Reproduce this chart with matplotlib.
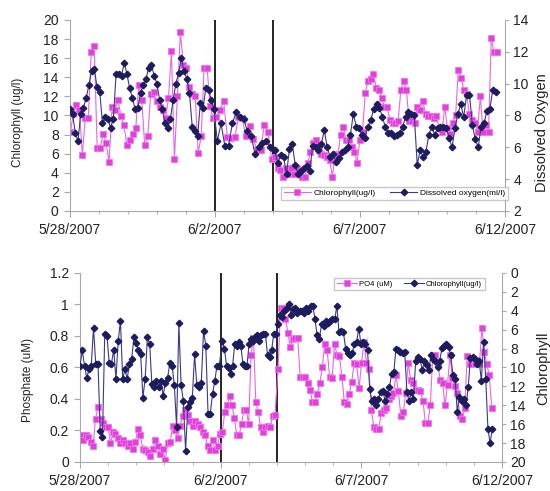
import numpy as np
import pandas as pd
import matplotlib
matplotlib.use('Agg')
import matplotlib.pyplot as plt
import matplotlib.dates as mdates
from matplotlib.ticker import FixedLocator

plt.rcParams['font.family'] = ['Liberation Sans', 'DejaVu Sans']

# ---- top panel: chlorophyll (ug/l) and dissolved oxygen (ml/l) ----
# each series is kept in three pieces: before 6/2, 6/2-6/4, after 6/4
top_chl_spans = [('2007-05-28 00:30', '2007-06-01 22:30'),
                 ('2007-06-02 01:10', '2007-06-03 23:00'),
                 ('2007-06-04 01:40', '2007-06-11 17:15')]
top_chl_a = [8.3, 10.2, 11.1, 10.6, 5.9, 9.7, 9.7, 16.6, 17.3, 6.6, 6.6, 8.1, 7.1, 5.1, 10.9, 10.6,
             11.6, 9.9, 9.0, 6.9, 7.4, 8.1, 8.7, 13.2, 11.6, 6.9, 7.8, 12.2, 12.5, 11.5, 10.9, 10.6,
             9.7, 11.8, 16.7, 5.4, 12.0, 18.7, 15.3, 15.0, 13.0, 12.2, 12.0, 6.1, 7.8, 15.0, 15.0,
             11.0, 9.7]
top_chl_b = [9.8, 10.6, 11.5, 7.7, 7.6, 7.7, 9.8, 9.7, 7.8, 8.9, 7.5, 6.4, 6.4, 9.0, 8.3, 5.4]
top_chl_c = [5.7, 4.5, 4.3, 3.6, 4.5, 3.9, 4.5, 3.9, 4.5, 3.9, 3.6, 3.6, 5.0, 6.2, 7.1, 7.4, 6.4,
             6.0, 5.9, 5.7, 5.3, 3.6, 6.0, 5.9, 8.0, 8.8, 7.4, 7.4, 6.7, 6.2, 5.0, 7.4, 8.3, 12.4,
             13.6, 13.8, 14.3, 12.9, 12.7, 11.8, 10.9, 10.9, 9.5, 9.2, 9.2, 9.4, 12.7, 13.6, 12.7,
             9.4, 9.4, 9.2, 10.9, 10.6, 11.5, 10.2, 9.9, 9.9, 9.7, 9.9, 8.7, 8.3, 10.9, 8.7, 8.1,
             9.2, 10.1, 14.8, 13.9, 12.7, 12.2, 10.2, 9.5, 9.2, 8.3, 12.0, 8.3, 9.0, 8.3, 18.1,
             16.6, 16.6]

top_do_spans = [('2007-05-28 00:00', '2007-06-01 23:15'),
                ('2007-06-02 02:00', '2007-06-04 00:45'),
                ('2007-06-04 01:40', '2007-06-11 16:20')]
top_do_a = [8.4, 8.1, 6.9, 6.4, 8.1, 8.5, 9.1, 9.9, 10.8, 10.9, 9.8, 9.5, 7.5, 7.9, 7.8, 7.2, 7.8,
            10.6, 10.6, 10.5, 11.3, 10.6, 9.7, 9.1, 8.4, 8.5, 9.4, 9.9, 10.3, 11.0, 11.2, 10.5,
            10.0, 9.0, 8.4, 7.5, 7.2, 7.8, 9.0, 10.0, 10.7, 11.6, 10.8, 10.3, 9.4, 7.3, 7.0, 6.7,
            8.8, 8.5, 9.7, 9.6, 9.0, 8.4]
top_do_b = [6.4, 7.5, 6.1, 6.1, 7.5, 8.2, 7.9, 7.8, 7.0, 6.7, 5.6, 6.0, 6.3, 6.4, 6.0, 5.8]
top_do_c = [5.8, 5.0, 5.5, 5.4, 4.3, 5.9, 6.2, 4.9, 4.3, 4.5, 4.7, 4.8, 4.5, 6.1, 6.0, 5.8, 6.2,
            7.1, 6.0, 5.4, 5.6, 5.1, 5.3, 5.7, 5.8, 6.0, 6.8, 8.1, 7.3, 7.2, 6.8, 6.6, 7.3, 7.7,
            8.4, 8.7, 8.5, 7.9, 7.3, 6.9, 6.9, 6.7, 6.8, 6.9, 7.3, 7.9, 8.2, 8.1, 8.0, 4.9, 5.8,
            5.4, 5.7, 6.8, 7.3, 6.8, 7.2, 7.3, 7.3, 7.2, 6.6, 6.0, 7.2, 8.1, 8.7, 7.9, 9.3, 9.3,
            7.4, 6.5, 6.0, 7.3, 7.5, 8.3, 8.4, 9.6, 9.5]

# ---- bottom panel: phosphate (uM) and chlorophyll (ug/l) ----
bot_po4_spans = [('2007-05-28 00:30', '2007-06-01 23:30'),
                 ('2007-06-02 01:30', '2007-06-03 22:20'),
                 ('2007-06-04 01:00', '2007-06-11 15:20')]
bot_po4_a = [0.17, 0.14, 0.17, 0.16, 0.13, 0.10, 0.275, 0.35, 0.275, 0.25, 0.22, 0.22, 0.12, 0.19,
             0.18, 0.15, 0.12, 0.14, 0.12, 0.10, 0.12, 0.085, 0.13, 0.21, 0.17, 0.085, 0.075,
             0.065, 0.04, 0.085, 0.14, 0.10, 0.05, 0.085, 0.01, 0.12, 0.13, 0.23, 0.20, 0.15,
             0.23, 0.29, 0.33, 0.30, 0.26, 0.23, 0.26, 0.24, 0.22, 0.19, 0.17, 0.10, 0.075, 0.14,
             0.075, 0.10, 0.18]
bot_po4_b = [0.19, 0.32, 0.36, 0.42, 0.36, 0.28, 0.17, 0.17, 0.24, 0.33, 0.33, 0.24, 0.68, 0.79,
             0.38, 0.32, 0.22, 0.19, 0.22, 0.23, 0.22, 0.29, 0.30]
bot_po4_c = [0.59, 0.98, 0.98, 0.91, 0.82, 0.73, 0.78, 0.79, 0.79, 0.54, 0.54, 0.54, 0.50, 0.46,
             0.38, 0.38, 0.43, 0.50, 0.60, 0.75, 0.71, 0.54, 0.53, 0.75, 0.68, 0.67, 0.54, 0.38,
             0.37, 0.43, 0.51, 0.63, 0.62, 0.47, 0.63, 0.76, 0.63, 0.59, 0.33, 0.22, 0.21, 0.21,
             0.31, 0.33, 0.34, 0.40, 0.42, 0.44,
             0.55, 0.45, 0.29, 0.32, 0.44, 0.63, 0.52, 0.50, 0.46, 0.46, 0.45, 0.39, 0.25, 0.25,
             0.36, 0.68, 0.68, 0.63, 0.52, 0.50, 0.36, 0.49, 0.68, 0.53, 0.48, 0.44, 0.29, 0.27,
             0.34, 0.67, 0.62, 0.65, 0.62, 0.65, 0.62, 0.85, 0.70, 0.62, 0.55, 0.34]

bot_chl_spans = [('2007-05-28 00:00', '2007-06-01 22:50'),
                 ('2007-06-02 01:30', '2007-06-03 23:00'),
                 ('2007-06-04 00:45', '2007-06-11 15:50')]
bot_chl_a = [9.8, 8.2, 9.8, 11.1, 10.2, 9.8, 5.8, 9.6, 9.6, 16.7, 17.4, 6.5, 6.7, 9.5, 9.6, 8.1,
             11.2, 7.2, 5.1, 11.2, 10.2, 11.2, 9.6, 9.1, 6.8, 7.4, 8.1, 8.6, 13.2, 11.2, 6.8, 7.5,
             11.8, 12.1, 11.4, 12.1, 11.4, 13.0, 11.6, 11.1, 9.5, 9.8, 11.9, 16.3, 5.3, 11.9,
             13.5, 18.8, 14.2, 13.7, 13.2, 8.6, 11.9, 12.1, 11.6, 6.1, 7.7, 14.9, 14.9, 12.8,
             11.4, 9.8, 9.8]
bot_chl_b = [7.2, 8.0, 9.8, 10.1, 10.7, 9.8, 7.5, 7.7, 7.3, 7.7, 9.6, 9.8, 9.8, 7.5, 7.0, 7.2,
             6.8, 6.6, 7.2, 6.6, 6.5, 6.5, 8.7, 8.9, 8.2, 6.5, 6.5]
bot_chl_c = [5.4, 4.5, 4.7, 4.0, 3.7, 3.3, 4.4, 3.8, 3.7,
             4.2, 4.0, 4.0, 4.2, 3.7, 4.0, 3.5, 3.5, 4.9, 6.6, 7.0, 5.4, 5.6, 5.1, 5.3, 5.1, 4.9,
             4.9, 3.5, 6.3, 6.1, 6.3, 8.0, 8.5, 8.7, 8.5, 7.5, 7.3, 5.9, 7.5, 7.3, 7.5, 8.2, 12.3,
             13.5, 13.3, 14.0, 13.3, 12.6, 12.5, 13.5, 12.8, 12.1, 10.7, 10.5, 8.0, 8.2, 8.4, 8.5,
             8.4, 12.6, 13.6, 12.6, 13.3, 9.3, 8.9, 9.1, 10.3, 9.3, 9.7, 10.3, 8.7, 9.1, 9.3, 9.9,
             9.3, 7.9, 7.7, 7.5, 7.8, 8.7, 10.8, 11.2, 14.7, 13.1, 13.6, 13.3, 14.0, 12.1, 9.0,
             8.9, 9.1, 9.6, 9.3, 11.4, 7.3, 11.2, 16.5, 18.0, 16.5]

event_dates = ['2007-06-02', '2007-06-04']
tick_dates = ['2007-05-28', '2007-06-02', '2007-06-07', '2007-06-12']
tick_labels = ['5/28/2007', '6/2/2007', '6/7/2007', '6/12/2007']

PINK = '#e23fdc'
PINK_LINE = '#e866e4'
NAVY = '#1c1c5e'
NAVY_LINE = '#3a3a88'
AXCOL = '#a8a8a8'


def series(spans, *chunks):
    t = np.concatenate([pd.date_range(a, b, periods=len(c)).to_numpy()
                        for (a, b), c in zip(spans, chunks)])
    v = np.concatenate([np.asarray(c, float) for c in chunks])
    return t, v


def style(ax, twin):
    ax.spines['top'].set_visible(False)
    twin.spines['top'].set_visible(False)
    twin.spines['left'].set_visible(False)
    twin.spines['bottom'].set_visible(False)
    ax.spines['right'].set_visible(False)
    for sp in [ax.spines['left'], ax.spines['bottom'], twin.spines['right']]:
        sp.set_color(AXCOL)
        sp.set_linewidth(0.8)
    ax.set_xlim(pd.Timestamp('2007-05-28'), pd.Timestamp('2007-06-12'))
    ax.xaxis.set_major_locator(FixedLocator(mdates.date2num(pd.to_datetime(tick_dates))))
    ax.set_xticklabels(tick_labels)
    ax.xaxis.set_minor_locator(mdates.DayLocator())
    ax.tick_params(axis='x', which='major', length=4, pad=5, color=AXCOL,
                   labelsize=10, labelcolor='#222222')
    ax.tick_params(axis='x', which='minor', length=2.5, color=AXCOL)
    ax.tick_params(axis='y', length=4, pad=4, color=AXCOL, labelsize=10, labelcolor='#222222')
    twin.tick_params(axis='y', length=3, pad=3, color=AXCOL, labelsize=10, labelcolor='#222222')
    for d in event_dates:
        ax.axvline(pd.Timestamp(d), color='black', lw=1.2, zorder=1)


fig = plt.figure(figsize=(5.5, 4.91), dpi=100)

# top panel
ax1 = fig.add_axes([0.127, 0.5703, 0.791, 0.389])
ax1r = ax1.twinx()
t, v = series(top_chl_spans, top_chl_a, top_chl_b, top_chl_c)
h1, = ax1.plot(t, v, color=PINK_LINE, lw=0.8, marker='s', ms=4.6, mfc=PINK, mec='#ee77ee',
               mew=0.6, label='Chlorophyll(ug/l)', zorder=2)
t, v = series(top_do_spans, top_do_a, top_do_b, top_do_c)
h2, = ax1r.plot(t, v, color=NAVY_LINE, lw=0.8, marker='D', ms=3.3, mfc=NAVY, mec=NAVY,
                label='Dissolved oxygen(ml/l)', zorder=2)
ax1.set_ylim(0, 20)
ax1.set_yticks(np.arange(0, 21, 2))
ax1r.set_ylim(2, 14)
ax1r.set_yticks(np.arange(2, 15, 2))
style(ax1, ax1r)
ax1r.legend(handles=[h1, h2], loc='center', bbox_to_anchor=(0.746, 0.092), ncol=2,
            fontsize=6, frameon=True, fancybox=False, edgecolor='#bbbbbb',
            handlelength=3.2, columnspacing=1.8, borderpad=0.35, handletextpad=0.3)

# bottom panel
ax2 = fig.add_axes([0.1455, 0.0591, 0.767, 0.385])
ax2r = ax2.twinx()
t, v = series(bot_po4_spans, bot_po4_a, bot_po4_b, bot_po4_c)
h3, = ax2.plot(t, v, color=PINK_LINE, lw=0.8, marker='s', ms=4.6, mfc=PINK, mec='#ee77ee',
               mew=0.6, label='PO4 (uM)', zorder=2)
t, v = series(bot_chl_spans, bot_chl_a, bot_chl_b, bot_chl_c)
h4, = ax2r.plot(t, v, color=NAVY_LINE, lw=0.8, marker='D', ms=3.3, mfc=NAVY, mec=NAVY,
                label='Chlorophyll(ug/l)', zorder=2)
ax2.set_ylim(0, 1.2)
ax2.set_yticks([0, 0.2, 0.4, 0.6, 0.8, 1.0, 1.2])
ax2.set_yticklabels(['0', '0.2', '0.4', '0.6', '0.8', '1', '1.2'])
ax2r.set_ylim(20, 0)
ax2r.set_yticks(np.arange(0, 21, 2))
style(ax2, ax2r)
ax2r.legend(handles=[h3, h4], loc='center', bbox_to_anchor=(0.781, 0.942), ncol=2,
            fontsize=5.5, frameon=True, fancybox=False, edgecolor='#bbbbbb',
            handlelength=2.6, columnspacing=1.5, borderpad=0.35, handletextpad=0.3)

# axis titles
fig.text(0.0327, 0.7515, 'Chlorophyll (ug/l)', rotation=90, ha='center', va='center',
         fontsize=8.5, color='#222222')
fig.text(0.985, 0.729, 'Dissolved Oxygen', rotation=90, ha='center', va='center',
         fontsize=10.5, color='#222222')
fig.text(0.051, 0.226, 'Phosphate (uM)', rotation=90, ha='center', va='center',
         fontsize=8.5, color='#222222')
fig.text(0.987, 0.2505, 'Chlorophyll', rotation=90, ha='center', va='center',
         fontsize=10.5, color='#222222')

fig.savefig('out.png', dpi=100)
